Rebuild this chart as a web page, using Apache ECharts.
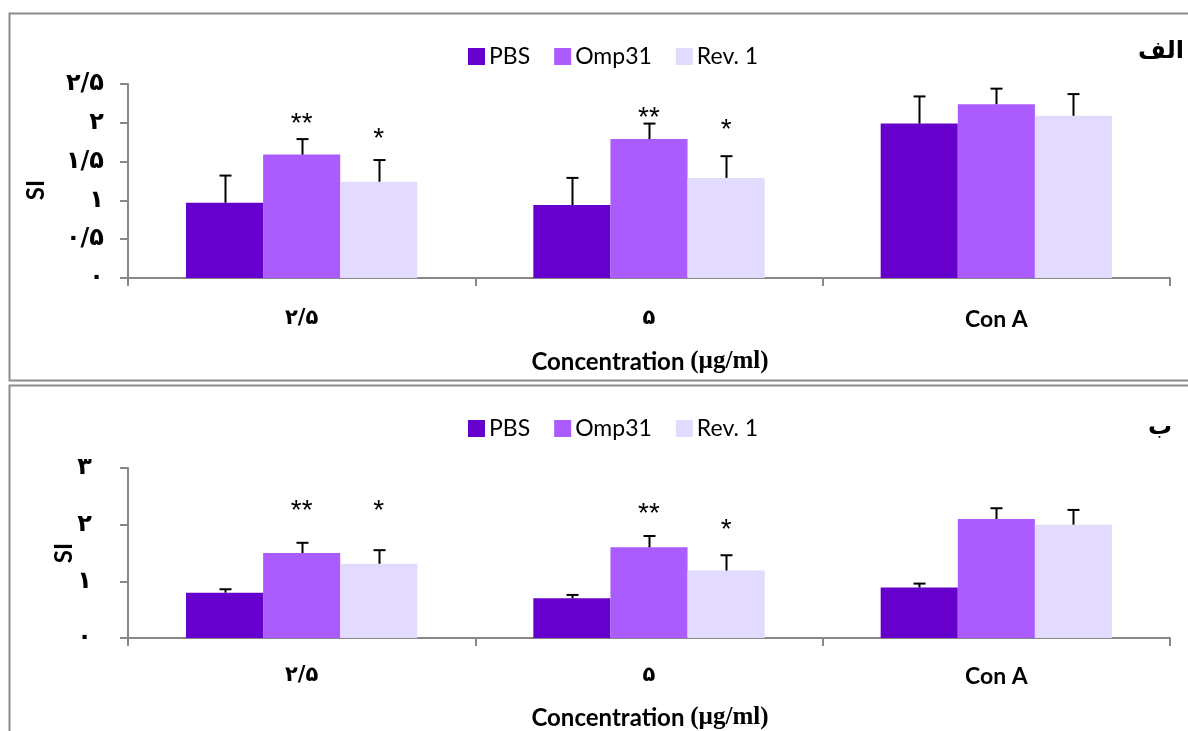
<!DOCTYPE html>
<html><head><meta charset="utf-8">
<script src="https://cdn.jsdelivr.net/npm/echarts@6/dist/echarts.min.js"></script>
<style>html,body{margin:0;padding:0;background:#fff;overflow:hidden}#c{width:1188px;height:731px}</style>
</head><body><div id="c"></div>
<script>
const categories = ['2.5', '5', 'Con A'];
const seriesNames = ['PBS', 'Omp31', 'Rev. 1'];
// Panel A (الف)
const pbsA = [0.97, 0.94, 1.99];
const pbsAErr = [0.35, 0.35, 0.35];
const ompA = [1.59, 1.79, 2.24];
const ompAErr = [0.20, 0.20, 0.20];
const revA = [1.24, 1.29, 2.09];
const revAErr = [0.28, 0.28, 0.28];
const ompAStars = ['**', '**', ''];
const ompAStarY = [2.09, 2.16, 0];
const revAStars = ['*', '*', ''];
const revAStarY = [1.89, 2.01, 0];
const yTicksA = [0, 0.5, 1, 1.5, 2, 2.5];
// Panel B (ب)
const pbsB = [0.80, 0.70, 0.89];
const pbsBErr = [0.06, 0.06, 0.07];
const ompB = [1.50, 1.60, 2.10];
const ompBErr = [0.18, 0.20, 0.19];
const revB = [1.31, 1.19, 2.00];
const revBErr = [0.24, 0.27, 0.26];
const ompBStars = ['**', '**', ''];
const ompBStarY = [2.37, 2.32, 0];
const revBStars = ['*', '*', ''];
const revBStarY = [2.37, 2.04, 0];
const yTicksB = [0, 1, 2, 3];

const colors = ['#6600CC', '#AA5CFF', '#E2DAFF'];
const GAP = 0.334;
const fa = s => String(s).replace('.', '/').replace(/\d/g, d => '۰۱۲۳۴۵۶۷۸۹'[d]);

function errRender(si) {
  return function (params, api) {
    const ci = api.value(0), v = api.value(1), e = api.value(2);
    const band = api.size([1, 0])[0];
    const bw = band * (1 - GAP) / 3;
    const c = api.coord([ci, v]);
    const t = api.coord([ci, v + e]);
    const x = Math.round(c[0] + (si - 1) * bw) + 0.5;
    const st = { stroke: '#000', lineWidth: 2 };
    return { type: 'group', children: [
      { type: 'line', shape: { x1: x, y1: c[1], x2: x, y2: t[1] }, style: st },
      { type: 'line', shape: { x1: x - 6, y1: t[1], x2: x + 6, y2: t[1] }, style: st }
    ]};
  };
}
const starData = {};
function starRender(si) {
  return function (params, api) {
    const ci = api.value(0), y = api.value(1);
    const txt = starData[params.seriesName][params.dataIndex] || '';
    const band = api.size([1, 0])[0];
    const bw = band * (1 - GAP) / 3;
    const c = api.coord([ci, y]);
    const x = c[0] + (si - 1) * bw;
    return { type: 'text', x: x, y: c[1] + 8, style: { text: txt, fill: '#000', font: '28px "Liberation Sans"', align: 'center', verticalAlign: 'middle' } };
  };
}

function barSeries(name, vals, idx, gi) {
  return { name: name, type: 'bar', xAxisIndex: gi, yAxisIndex: gi, data: vals,
    barGap: '0%', barCategoryGap: (GAP * 100) + '%', itemStyle: { color: colors[idx] }, z: 2 };
}
function errSeries(vals, errs, idx, gi) {
  return { type: 'custom', xAxisIndex: gi, yAxisIndex: gi, renderItem: errRender(idx),
    data: vals.map((v, i) => [i, v, errs[i]]), encode: { x: 0, y: 1 }, z: 5, silent: true };
}
function starSeries(key, ys, texts, idx, gi) {
  const data = [];
  texts.forEach((t, i) => { if (t) data.push([i, ys[i]]); });
  starData[key] = texts.filter(t => t);
  return { name: key, type: 'custom', xAxisIndex: gi, yAxisIndex: gi, renderItem: starRender(idx),
    data: data, encode: { x: 0, y: 1 }, z: 6, silent: true };
}

const axisLine = { show: true, lineStyle: { color: '#878787', width: 2 } };
function xAx(gi, margin) {
  return { type: 'category', gridIndex: gi, data: categories,
    axisLine: axisLine, axisTick: { show: true, length: 8, lineStyle: { color: '#878787', width: 2 } },
    axisLabel: { margin: margin, color: '#000', fontSize: 23, fontWeight: 'bold', fontFamily: 'Lato',
      formatter: v => v === 'Con A' ? '{e|Con A}' : '{p|' + fa(v) + '}',
      rich: { e: { fontSize: 23, fontWeight: 'bold', fontFamily: 'Lato', color: '#000' },
              p: { fontSize: 21, fontWeight: 'bold', fontFamily: 'DejaVu Sans', color: '#000' } } } };
}
function yAx(gi, max, interval, margin) {
  return { type: 'value', gridIndex: gi, min: 0, max: max, interval: interval,
    splitLine: { show: false },
    axisLine: axisLine, axisTick: { show: true, length: 8, lineStyle: { color: '#878787', width: 2 } },
    axisLabel: { margin: margin, color: '#000', fontSize: 24, fontWeight: 'bold', fontFamily: 'DejaVu Sans', formatter: v => fa(v) } };
}
function legend(top) {
  return { top: top, left: 463, data: seriesNames, icon: 'rect', itemWidth: 17, itemHeight: 17, itemGap: 24,
    textStyle: { fontSize: 23, fontFamily: 'Lato', color: '#000', padding: [0, 0, 0, -1] }, selectedMode: false };
}
function txt(x, y, text, rich, rot) {
  return { type: 'text', x: x, y: y, rotation: rot || 0, style: { text: text, rich: rich, align: 'center', verticalAlign: 'middle' } };
}
const concRich = { a: { fontSize: 24, fontWeight: 'bold', fontFamily: 'Lato', fill: '#000', color: '#000' },
                   b: { fontSize: 25, fontWeight: 'bold', fontFamily: 'Liberation Serif', fill: '#000', color: '#000' } };
const panelRich = { f: { fontSize: 24, fontWeight: 'bold', fontFamily: 'DejaVu Sans', fill: '#000', color: '#000' } };

const chart = echarts.init(document.getElementById('c'));
chart.setOption({
  animation: false,
  backgroundColor: '#fff',
  grid: [
    { left: 128, right: 18, top: 84, height: 194 },
    { left: 128, right: 18, top: 468, height: 170 }
  ],
  legend: [legend(40), legend(412)],
  xAxis: [xAx(0, 30), xAx(1, 27)],
  yAxis: [yAx(0, 2.5, 0.5, 24), yAx(1, 3, 1, 36)],
  series: [
    barSeries('PBS', pbsA, 0, 0), barSeries('Omp31', ompA, 1, 0), barSeries('Rev. 1', revA, 2, 0),
    errSeries(pbsA, pbsAErr, 0, 0), errSeries(ompA, ompAErr, 1, 0), errSeries(revA, revAErr, 2, 0),
    starSeries('sA1', ompAStarY, ompAStars, 1, 0), starSeries('sA2', revAStarY, revAStars, 2, 0),
    barSeries('PBS', pbsB, 0, 1), barSeries('Omp31', ompB, 1, 1), barSeries('Rev. 1', revB, 2, 1),
    errSeries(pbsB, pbsBErr, 0, 1), errSeries(ompB, ompBErr, 1, 1), errSeries(revB, revBErr, 2, 1),
    starSeries('sB1', ompBStarY, ompBStars, 1, 1), starSeries('sB2', revBStarY, revBStars, 2, 1)
  ],
  graphic: [
    { type: 'rect', shape: { x: 9.5, y: 13.5, width: 1200, height: 367 }, style: { fill: 'none', stroke: '#8c8c8c', lineWidth: 2 }, z: 0, silent: true },
    { type: 'rect', shape: { x: 9.5, y: 385.5, width: 1200, height: 400 }, style: { fill: 'none', stroke: '#8c8c8c', lineWidth: 2 }, z: 0, silent: true },
    txt(650, 362, '{a|Concentration }{b|(µg/ml)}', concRich),
    txt(650, 718, '{a|Concentration }{b|(µg/ml)}', concRich),
    txt(36, 190, '{a|SI}', concRich, Math.PI / 2),
    txt(64, 553, '{a|SI}', concRich, Math.PI / 2),
    txt(1161, 52, '{f|الف}', panelRich),
    txt(1160, 428, '{f|ب}', panelRich)
  ]
});
</script></body></html>
